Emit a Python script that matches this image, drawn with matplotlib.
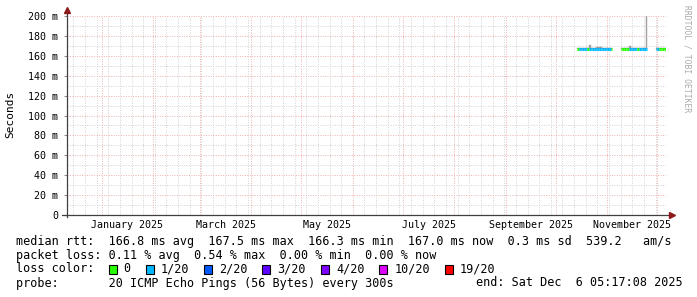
import matplotlib
matplotlib.use("Agg")
import matplotlib.pyplot as plt
import matplotlib.dates as mdates
from matplotlib.patches import Rectangle
from matplotlib.ticker import MultipleLocator, NullFormatter
from datetime import datetime, timedelta
import numpy as np

# ---- data ----
END = datetime(2025, 12, 6, 5, 17, 8)
START = END - timedelta(days=360)

# daily medians (ms), loss (pings lost out of 20), top of smoke (ms)
seg1_start = datetime(2025, 10, 14)
seg1_median = [166.9, 166.8, 166.7, 166.8, 166.9, 166.8, 166.6, 166.9, 166.8, 166.7, 166.8,
               166.9, 166.7, 166.8, 166.6, 166.8, 166.9, 166.8, 166.7, 166.8, 166.9]
seg1_loss = [0, 1, 1, 1, 1, 1, 0, 1, 1, 1, 1, 1, 1, 1, 1, 1, 1, 1, 1, 1, 0]
seg1_smoke = [167.6, 167.4, 167.5, 167.6, 167.5, 167.4, 167.6, 171.0, 167.5, 167.6, 167.4,
              168.5, 168.8, 168.6, 168.4, 167.6, 167.5, 167.4, 167.6, 167.5, 167.4]

seg2_start = datetime(2025, 11, 9)
seg2_median = [166.7, 166.8, 166.9, 166.8, 166.7, 166.8, 166.9, 166.8, 166.6, 166.8,
               166.9, 166.8, 166.7, 166.8, 166.9, 167.0]
seg2_loss = [0, 0, 0, 0, 0, 1, 1, 1, 1, 1, 0, 1, 1, 1, 1, 1]
seg2_smoke = [167.5, 167.4, 167.6, 167.5, 167.4, 170.0, 167.5, 167.6, 167.4, 167.5,
              167.6, 167.5, 167.4, 167.6, 167.5, 205.0]

seg3_start = datetime(2025, 11, 30)
seg3_median = [166.8, 166.9, 166.8, 166.7, 166.8, 166.9, 167.0]
seg3_loss = [1, 1, 0, 0, 0, 0, 0]
seg3_smoke = [167.5, 167.6, 167.5, 167.4, 167.5, 167.6, 167.6]

loss_labels = ["0", "1/20", "2/20", "3/20", "4/20", "10/20", "19/20"]
loss_hex = ["#26ff00", "#00b8ff", "#0059ff", "#5e00ff", "#7e00ff", "#dd00ff", "#ff0000"]

label_months = [1, 3, 5, 7, 9, 11]
label_year = 2025

line_rtt = "median rtt:  166.8 ms avg  167.5 ms max  166.3 ms min  167.0 ms now  0.3 ms sd  539.2   am/s"
line_loss = "packet loss: 0.11 % avg  0.54 % max  0.00 % min  0.00 % now"
line_probe = "probe:       20 ICMP Echo Pings (56 Bytes) every 300s"
line_end = "end: Sat Dec  6 05:17:08 2025"

# ---- figure ----
plt.rcParams["font.family"] = "DejaVu Sans Mono"
W, H = 697, 297
fig = plt.figure(figsize=(W / 100, H / 100), dpi=100)
fig.patch.set_facecolor("white")

def fx(x):
    return x / W

def fy(y):
    return 1 - y / H

ax = fig.add_axes([fx(67), fy(215), (666 - 67) / W, (215 - 16) / H])
ax.set_facecolor("white")
ax.set_xlim(START, END)
ax.set_ylim(0, 0.2)

# grid
ax.xaxis.set_major_locator(mdates.MonthLocator())
ax.xaxis.set_minor_locator(mdates.WeekdayLocator(byweekday=mdates.SU))
ax.xaxis.set_major_formatter(NullFormatter())
ax.yaxis.set_major_locator(MultipleLocator(0.02))
ax.yaxis.set_minor_locator(MultipleLocator(0.01))
ax.grid(which="minor", color="#d2d2d2", linestyle=(0, (1, 1.5)), linewidth=0.7)
ax.grid(which="major", color="#f0b0b0", linestyle=(0, (1, 1.5)), linewidth=0.7)
ax.set_axisbelow(True)

def ylab(v, pos):
    ms = round(v * 1000)
    return "0" if ms == 0 else f"{ms} m"

ax.yaxis.set_major_formatter(plt.FuncFormatter(ylab))
ax.tick_params(axis="y", which="major", length=2, pad=4.5, labelsize=7.2, color="#909090")
ax.tick_params(axis="y", which="minor", length=0)
ax.tick_params(axis="x", which="both", length=0)
for s in ax.spines.values():
    s.set_visible(False)

# month labels centred mid-month
for m in label_months:
    d0 = datetime(label_year, m, 1)
    d1 = datetime(label_year + (m == 12), m % 12 + 1, 1)
    mid = d0 + (d1 - d0) / 2
    ax.text(mid, -10 / 199, f"{d0:%B} {label_year}", transform=ax.get_xaxis_transform(),
            ha="center", va="center", fontsize=7.2)

# data: smoke then coloured median
for start, med, loss, smoke in [(seg1_start, seg1_median, seg1_loss, seg1_smoke),
                                (seg2_start, seg2_median, seg2_loss, seg2_smoke),
                                (seg3_start, seg3_median, seg3_loss, seg3_smoke)]:
    days = mdates.date2num([start + timedelta(days=i) for i in range(len(med))])
    med = np.array(med) / 1000
    smoke = np.array(smoke) / 1000
    ax.bar(days, smoke - med, bottom=med, width=1.0, align="edge",
           color="#a0a0a0", linewidth=0.3, edgecolor="#a0a0a0")
    ax.hlines(med, days, days + 1, colors=[loss_hex[l] for l in loss],
              linewidth=2.2, capstyle="butt")

# axes lines and arrows
ax.plot([-5 / 599, 1 + 3 / 599], [0, 0], color="#404040", lw=0.9,
        transform=ax.transAxes, clip_on=False)
ax.plot([0, 0], [-2 / 199, 1 + 5 / 199], color="#404040", lw=0.9,
        transform=ax.transAxes, clip_on=False)
ax.plot([1 + 6 / 599], [0], marker=">", ms=4, color="#8b1a1a",
        transform=ax.transAxes, clip_on=False)
ax.plot([0], [1 + 6 / 199], marker="^", ms=4, color="#8b1a1a",
        transform=ax.transAxes, clip_on=False)

# labels
fig.text(fx(10), fy(114), "Seconds", rotation=90, ha="center", va="center", fontsize=8)
fig.text(fx(687), fy(5), "RRDTOOL / TOBI OETIKER", rotation=270, ha="center", va="top",
         fontsize=5.8, color="#aaaaaa")

# legend block
fs = 8.5
cw = 0.602 * fs * 100 / 72
fig.text(fx(16), fy(241), line_rtt, ha="left", va="center", fontsize=fs)
fig.text(fx(16), fy(255), line_loss, ha="left", va="center", fontsize=fs)
fig.text(fx(16), fy(269), "loss color:", ha="left", va="center", fontsize=fs)
x = 108.5
for lab, col in zip(loss_labels, loss_hex):
    fig.patches.append(Rectangle((fx(x), fy(273.5)), 8 / W, 9 / H, transform=fig.transFigure,
                                 facecolor=col, edgecolor="black", linewidth=0.8))
    fig.text(fx(x + 15), fy(269), lab, ha="left", va="center", fontsize=fs)
    x = x + 15 + len(lab) * cw + 15
fig.text(fx(16), fy(283), line_probe, ha="left", va="center", fontsize=fs)
fig.text(fx(683), fy(283), line_end, ha="right", va="center", fontsize=fs)

fig.savefig("out.png", dpi=100, facecolor="white")
